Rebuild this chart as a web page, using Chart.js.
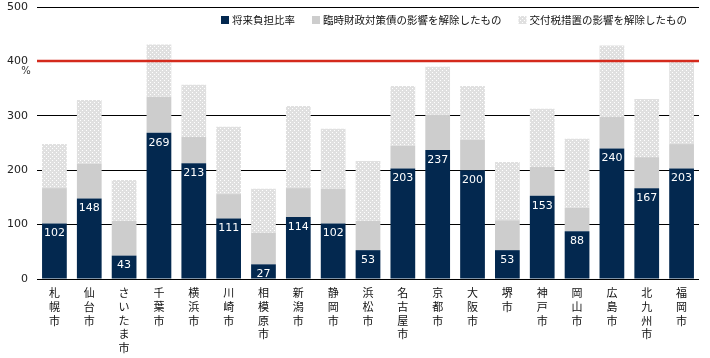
<!DOCTYPE html>
<html><head><meta charset="utf-8">
<script src="https://cdn.jsdelivr.net/npm/chart.js@4/dist/chart.umd.min.js"></script>
<style>html,body{margin:0;padding:0;background:#fff}#wrap{width:710px;height:358px;position:relative}</style>
</head><body><div id="wrap"><canvas id="c" width="710" height="358"></canvas></div>
<script>
const cities = ['札幌市','仙台市','さいたま市','千葉市','横浜市','川崎市','相模原市','新潟市','静岡市','浜松市','名古屋市','京都市','大阪市','堺市','神戸市','岡山市','広島市','北九州市','福岡市'];
const futureBurden = [102,148,43,269,213,111,27,114,102,53,203,237,200,53,153,88,240,167,203];
const withoutTempBonds = [167,212,107,335,261,156,85,167,166,107,245,302,256,108,206,131,298,224,248];
const withoutGrantMeasures = [248,329,182,431,357,280,166,318,276,217,355,390,355,215,313,258,429,331,399];
const yTicks = [0,100,200,300,400,500];
const seriesNames = ['将来負担比率','臨時財政対策債の影響を解除したもの','交付税措置の影響を解除したもの'];
const limitLine = 400;

const NAVY = '#03284f', GRAY = '#cdcdcd', RED = '#d42a1c';
function makePattern(){
  const p = document.createElement('canvas'); p.width = 4; p.height = 4;
  const g = p.getContext('2d');
  g.fillStyle = '#e0e0e0'; g.fillRect(0,0,4,4);
  g.fillStyle = '#ffffff'; g.fillRect(0,0,1,1); g.fillRect(2,2,1,1);
  return document.getElementById('c').getContext('2d').createPattern(p,'repeat');
}
const DOTS = makePattern();

const incGray = withoutTempBonds.map((v,i)=>v-futureBurden[i]);
const incDots = withoutGrantMeasures.map((v,i)=>v-withoutTempBonds[i]);
const colors = [NAVY, GRAY, DOTS];

const overlay = {
  id:'overlay',
  afterDatasetsDraw(chart){
    const ctx = chart.ctx, y = chart.scales.y, a = chart.chartArea;
    ctx.save();
    ctx.font = '11px "DejaVu Sans"';
    ctx.fillStyle = '#ffffff'; ctx.textAlign = 'center'; ctx.textBaseline = 'middle';
    chart.getDatasetMeta(0).data.forEach((bar,i)=>{
      ctx.fillText(String(futureBurden[i]), bar.x, bar.y + 10);
    });
    const ly = Math.round(y.getPixelForValue(limitLine));
    ctx.strokeStyle = RED; ctx.lineWidth = 2.5;
    ctx.beginPath(); ctx.moveTo(a.left, ly); ctx.lineTo(a.right, ly); ctx.stroke();
    ctx.fillStyle = '#333'; ctx.font = '10px "DejaVu Sans"';
    ctx.fillText('%', a.left - 11, ly + 10);
    ctx.font = '10.5px "Noto Sans CJK JP"';
    ctx.textAlign = 'left';
    let x = 221; const cy = 20;
    seriesNames.forEach((n,i)=>{
      ctx.fillStyle = colors[i]; ctx.fillRect(x, cy-4, 8, 8);
      ctx.fillStyle = '#111';
      ctx.fillText(n, x + 11, cy);
      x += 11 + ctx.measureText(n).width + 17;
    });
    ctx.restore();
  }
};

new Chart(document.getElementById('c'), {
  type:'bar',
  data:{
    labels: cities.map(c=>Array.from(c)),
    datasets:[
      {label:seriesNames[0], data:futureBurden, backgroundColor:NAVY},
      {label:seriesNames[1], data:incGray, backgroundColor:GRAY},
      {label:seriesNames[2], data:incDots, backgroundColor:DOTS}
    ]
  },
  options:{
    responsive:false, animation:false,
    devicePixelRatio:1,
    layout:{padding:{top:7,right:11,left:0,bottom:0}},
    datasets:{bar:{barPercentage:0.71, categoryPercentage:1, borderWidth:0}},
    plugins:{legend:{display:false}, tooltip:{enabled:false}},
    scales:{
      x:{stacked:true,
        grid:{display:false, drawTicks:false},
        border:{display:false},
        ticks:{padding:7, color:'#111', maxRotation:0, autoSkip:false,
          font:{family:'"Noto Sans CJK JP"', size:11, lineHeight:1.25}},
        afterFit(s){ s.height = 79; s.paddingLeft = 0; s.paddingRight = 0; }
      },
      y:{stacked:true, min:0, max:500,
        afterBuildTicks(s){ s.ticks = yTicks.map(v=>({value:v})); },
        grid:{drawTicks:false, color:(c)=> c.tick && c.tick.value===limitLine ? 'rgba(0,0,0,0)' : '#000', lineWidth:1},
        border:{display:false},
        ticks:{padding:9, color:'#222', font:{family:'"DejaVu Sans"', size:11}},
        afterFit(s){ s.width = 37; s.paddingTop = 0; s.paddingBottom = 0; }
      }
    }
  },
  plugins:[overlay]
});
</script></body></html>
